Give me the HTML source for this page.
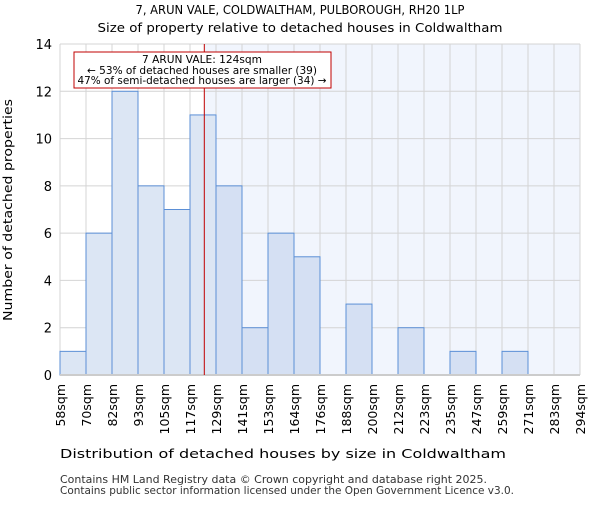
<!DOCTYPE html>
<html><head><meta charset="utf-8"><style>
body{margin:0;background:#fff;font-family:"Liberation Sans","DejaVu Sans",sans-serif;}
svg text{font-family:"DejaVu Sans","Liberation Sans",sans-serif;}
</style></head><body>
<svg id="c" width="600" height="500" xmlns="http://www.w3.org/2000/svg">
<text x="300" y="14" text-anchor="middle" font-size="12.5" textLength="329" lengthAdjust="spacingAndGlyphs">7, ARUN VALE, COLDWALTHAM, PULBOROUGH, RH20 1LP</text>
<text x="300" y="32" text-anchor="middle" font-size="12.5" textLength="405" lengthAdjust="spacingAndGlyphs">Size of property relative to detached houses in Coldwaltham</text>
<g id="plot"></g>
<text x="283" y="458" text-anchor="middle" font-size="12.5" textLength="446" lengthAdjust="spacingAndGlyphs">Distribution of detached houses by size in Coldwaltham</text>
<text transform="translate(12,210) rotate(-90)" text-anchor="middle" font-size="12.5" textLength="222" lengthAdjust="spacingAndGlyphs">Number of detached properties</text>
<text x="60" y="483" font-size="10.5" fill="#333" textLength="427" lengthAdjust="spacingAndGlyphs">Contains HM Land Registry data © Crown copyright and database right 2025.</text>
<text x="60" y="494" font-size="10.5" fill="#333" textLength="454" lengthAdjust="spacingAndGlyphs">Contains public sector information licensed under the Open Government Licence v3.0.</text>
</svg>
<script>
const binLabels=["58sqm","70sqm","82sqm","93sqm","105sqm","117sqm","129sqm","141sqm","153sqm","164sqm","176sqm","188sqm","200sqm","212sqm","223sqm","235sqm","247sqm","259sqm","271sqm","283sqm","294sqm"];
const counts=[1,6,12,8,7,11,8,2,6,5,0,3,0,2,0,1,0,1,0,0];
const yTicks=[0,2,4,6,8,10,12,14];
const markerBin=5.55;
const NS="http://www.w3.org/2000/svg";
const g=document.getElementById('plot');
const L=60,R=580,T=44,B=375,yMax=14;
const bw=(R-L)/counts.length;
const xS=i=>L+i*bw;
const yS=v=>B-(v/yMax)*(B-T);
function mk(t,a){const e=document.createElementNS(NS,t);for(const k in a)e.setAttribute(k,a[k]);g.appendChild(e);return e;}
const mx=xS(markerBin);
let e=mk('rect',{x:mx,y:T,width:R-mx,height:B-T,fill:'#f1f5fd'});


for(let i=0;i<=counts.length;i++){e=mk('line',{x1:xS(i),x2:xS(i),y1:T,y2:B,stroke:'#d4d4d4','stroke-width':1});

}
yTicks.forEach(v=>{e=mk('line',{x1:L,x2:R,y1:yS(v),y2:yS(v),stroke:'#d4d4d4','stroke-width':1});


e=mk('text',{x:L-8,y:yS(v)+5,'text-anchor':'end','font-size':13});e.textContent=v;

});
counts.forEach((c,i)=>{if(!c)return;e=mk('rect',{x:xS(i),y:yS(c),width:bw,height:B-yS(c),fill:i<markerBin?'#dce6f4':'#d5e0f3',stroke:'#5b8fd6','stroke-width':1});

});
binLabels.forEach((t,i)=>{e=mk('text',{transform:`translate(${xS(i)+5},384) rotate(-90)`,'text-anchor':'end','font-size':12.5});e.textContent=t;

});
e=mk('line',{x1:L,x2:R,y1:B,y2:B,stroke:'#ccc','stroke-width':2});


e=mk('line',{x1:mx,x2:mx,y1:T,y2:B,stroke:'#c00000','stroke-width':1});


e=mk('rect',{x:74,y:52,width:257,height:36,fill:'#fff',stroke:'#c00000','stroke-width':1});


[["7 ARUN VALE: 124sqm",63,120],["← 53% of detached houses are smaller (39)",74,230],["47% of semi-detached houses are larger (34) →",84,249]].forEach(([t,y,w])=>{e=mk('text',{x:202,y:y,'text-anchor':'middle','font-size':10.5,textLength:w,lengthAdjust:'spacingAndGlyphs'});e.textContent=t;

});
</script>
</body></html>
